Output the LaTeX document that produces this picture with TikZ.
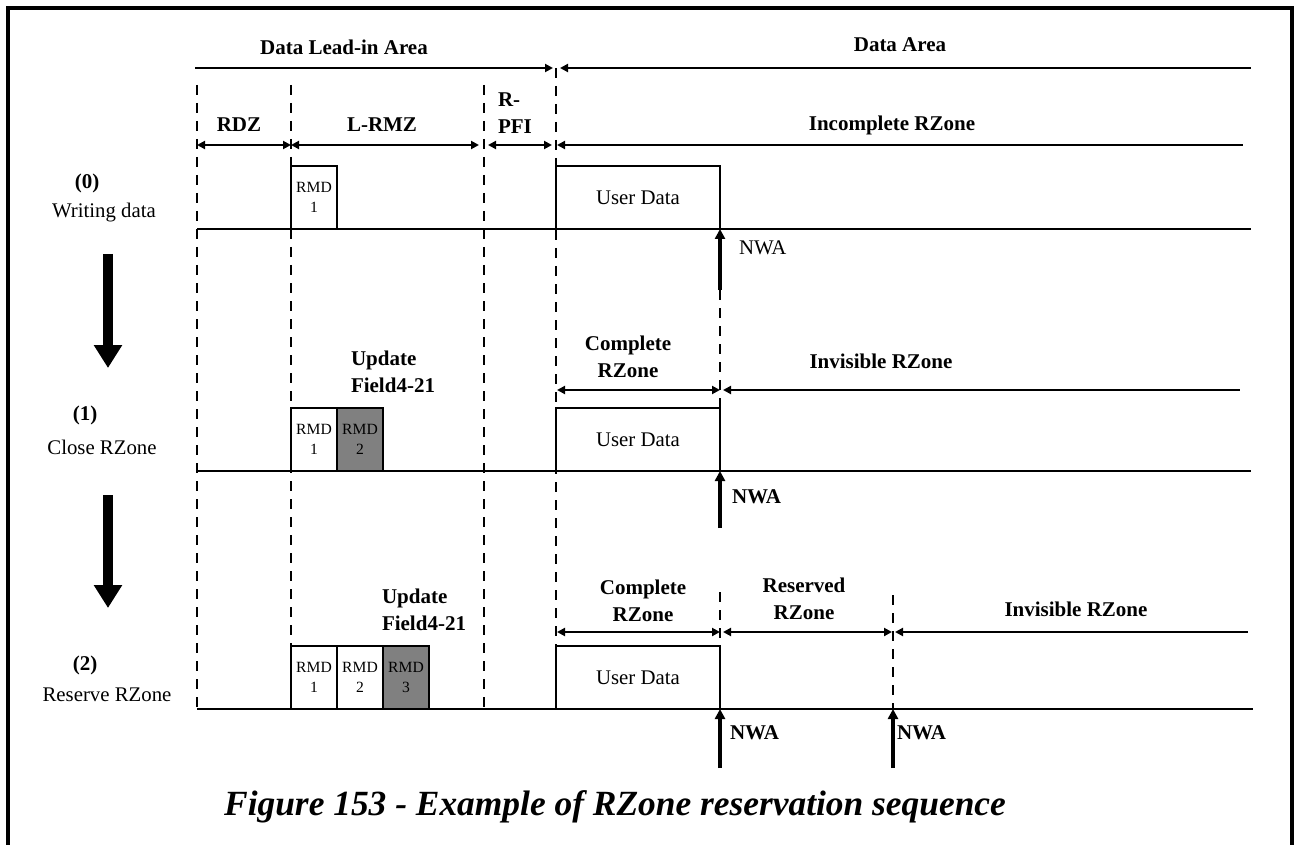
\documentclass[tikz,border=0pt]{standalone}
\usepackage{fontspec}
\setmainfont{Liberation Serif}
\usepackage{xcolor}
\definecolor{rmdgray}{HTML}{808080}
\usetikzlibrary{arrows.meta, positioning}

\begin{document}
\begin{tikzpicture}[
    x=0.5pt, y=-0.5pt,
    every node/.style={inner sep=0pt, outer sep=0pt},
    lbl/.style={font=\fontsize{10.5}{13.5}\selectfont\bfseries, align=center},
    plain/.style={font=\fontsize{10.4}{13}\selectfont, align=center},
    rmdtxt/.style={font=\fontsize{7.8}{10}\selectfont, align=center},
    blk/.style={draw, line width=1.3pt, anchor=south west,
                minimum height=31.5pt},
    rmd/.style={blk, rmdtxt, minimum width=23pt},
    rmdnew/.style={rmd, fill=rmdgray},
    udata/.style={blk, plain, minimum width=82pt},
    zone/.style={line width=1.3pt,
                 {Triangle[length=4pt,width=4pt]}-{Triangle[length=4pt,width=4pt]}},
    zoneL/.style={line width=1.3pt, {Triangle[length=4pt,width=4pt]}-},
    zoneR/.style={line width=1.3pt, -{Triangle[length=4pt,width=4pt]}},
    bound/.style={dash pattern=on 5pt off 4pt, line width=1.1pt},
    base/.style={line width=1.3pt},
    nwa/.style={line width=1.6pt, -{Triangle[length=5pt,width=5pt]}},
    bigarrow/.style={line width=5pt, -{Triangle[length=11.5pt,width=13.5pt]}},
]
\useasboundingbox (0,0) rectangle (1300,845);

% --- frame (open at the bottom) ---
\draw[line width=1.8pt] (8,845) -- (8,8) -- (1292,8) -- (1292,845);

% --- area headings ---
\node[lbl] (leadin)   at (344,47) {Data Lead-in Area};
\node[lbl] (dataarea) at (900,45) {Data Area};
\path (195,68) coordinate (t0) (553,68) coordinate (t1)
      (560,68) coordinate (t2) (1251,68) coordinate (t3);
\draw[zoneR] (t0) -- (t1);
\draw[zoneL] (t2) -- (t3);

% --- zone boundaries ---
\foreach \xx/\nm in {197/rdz, 291/lrmz, 484/rpfi}
    \draw[bound] (\xx,85) coordinate (\nm top) -- (\xx,709);
\draw[bound] (556,68) coordinate (da top) -- (556,709);

% --- zone names ---
\node[lbl] (rdz)  at (239,125) {RDZ};
\node[lbl] (lrmz) at (382,125) {L-RMZ};
\node[lbl, align=left, anchor=west] (rpfi) at (498,113.5) {R-\\PFI};
\node[lbl] (incz) at (892,125) {Incomplete RZone};
\path (197,145) coordinate (z0a) (291,145) coordinate (z0b)
      (479,145) coordinate (z0c) (488,145) coordinate (z0d)
      (552,145) coordinate (z0e) (557,145) coordinate (z0f)
      (1243,145) coordinate (z0g);
\draw[zone] (z0a) -- (z0b);
\draw[zone] (z0b) -- (z0c);
\draw[zone] (z0d) -- (z0e);
\draw[zoneL] (z0f) -- (z0g);

% --- (0) Writing data ---
\node[lbl]   (s0num) at (87,183)  {(0)};
\node[plain] (s0txt) at (104,213) {Writing data};
\node[rmd]   (rmd01) at (291,229) {RMD\\1};
\node[udata] (ud0)   at (556,229) {User Data};
\path (197,229) coordinate (b0s) (1251,229) coordinate (b0e);
\draw[base] (b0s) -- (b0e);
\coordinate (n0) at (720,290);
\draw[nwa] (n0) -- (ud0.south east);
\node[plain, anchor=west] (nwa0) at (739,248) {NWA};

\path (108,254) coordinate (d1a) (108,368) coordinate (d1b);
\draw[bigarrow] (d1a) -- (d1b);

% --- (1) Close RZone ---
\node[lbl]   (s1num) at (85,415)  {(1)};
\node[plain] (s1txt) at (102,447) {Close RZone};
\node[lbl, align=left, anchor=west] (upd1) at (351,371.5) {Update\\Field4-21};
\node[lbl] (cz1) at (628,356.5) {Complete\\RZone};
\node[lbl] (iz1) at (881,361) {Invisible RZone};
\path (557,390) coordinate (z1a) (720,390) coordinate (z1b)
      (723,390) coordinate (z1c) (1240,390) coordinate (z1d);
\draw[zone]  (z1a) -- (z1b);
\draw[zoneL] (z1c) -- (z1d);
\node[rmd]                    (rmd11) at (291,471) {RMD\\1};
\node[rmdnew, right=0pt of rmd11] (rmd12) {RMD\\2};
\node[udata] (ud1) at (556,471) {User Data};
\draw[bound] (n0) -- (ud1.north east);
\path (197,471) coordinate (b1s) (1251,471) coordinate (b1e);
\draw[base] (b1s) -- (b1e);
\coordinate (n1) at (720,528);
\draw[nwa] (n1) -- (ud1.south east);
\node[lbl, anchor=west] (nwa1) at (732,497) {NWA};

\path (108,495) coordinate (d2a) (108,608) coordinate (d2b);
\draw[bigarrow] (d2a) -- (d2b);

% --- (2) Reserve RZone ---
\node[lbl]   (s2num) at (85,665)  {(2)};
\node[plain] (s2txt) at (107,695) {Reserve RZone};
\node[lbl, align=left, anchor=west] (upd2) at (382,609.5) {Update\\Field4-21};
\node[lbl] (cz2) at (643,600.5) {Complete\\RZone};
\node[lbl] (rz2) at (804,598.5) {Reserved\\RZone};
\node[lbl] (iz2) at (1076,609) {Invisible RZone};
\path (557,632) coordinate (z2a) (720,632) coordinate (z2b)
      (723,632) coordinate (z2c) (892,632) coordinate (z2d)
      (895,632) coordinate (z2e) (1248,632) coordinate (z2f);
\draw[zone]  (z2a) -- (z2b);
\draw[zone]  (z2c) -- (z2d);
\draw[zoneL] (z2e) -- (z2f);
\node[rmd]                        (rmd21) at (291,709) {RMD\\1};
\node[rmd, right=0pt of rmd21]    (rmd22) {RMD\\2};
\node[rmdnew, right=0pt of rmd22] (rmd23) {RMD\\3};
\node[udata] (ud2) at (556,709) {User Data};
\coordinate (c2top) at (720,592);
\draw[bound] (c2top) -- (ud2.north east);
\path (893,595) coordinate (r2top) (893,709) coordinate (r2bot);
\draw[bound] (r2top) -- (r2bot);
\path (197,709) coordinate (b2s) (1253,709) coordinate (b2e);
\draw[base] (b2s) -- (b2e);
\path (720,768) coordinate (n2a) (893,768) coordinate (n2b);
\draw[nwa] (n2a) -- (ud2.south east);
\draw[nwa] (n2b) -- (r2bot);
\node[lbl, anchor=west] (nwa2a) at (730,733) {NWA};
\node[lbl, anchor=west] (nwa2b) at (897,733) {NWA};

% --- caption ---
\node[font=\fontsize{17.7}{20}\selectfont\bfseries\itshape] (caption) at (615,807)
    {Figure 153 - Example of RZone reservation sequence};
\end{tikzpicture}
\end{document}
